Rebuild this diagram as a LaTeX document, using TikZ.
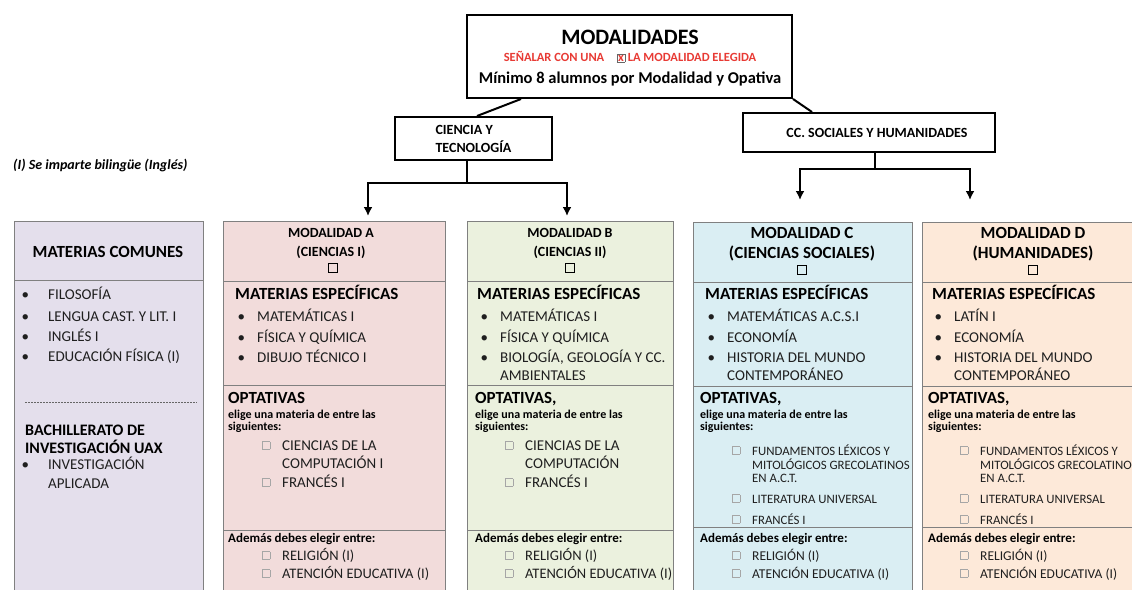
\documentclass[tikz,border=0pt]{standalone}
\usepackage{fontspec}
\setmainfont{Carlito}
\usetikzlibrary{arrows.meta}

\definecolor{comun}{RGB}{228,223,236}
\definecolor{modA}{RGB}{242,220,219}
\definecolor{modB}{RGB}{235,241,222}
\definecolor{modC}{RGB}{218,238,243}
\definecolor{modD}{RGB}{253,233,217}
\definecolor{rojo}{RGB}{232,58,52}
\definecolor{borde}{RGB}{128,128,128}

\newcommand\sz[1]{\fontsize{#1}{#1}\selectfont}
\newcommand\bul[1][12pt]{\llap{\textbullet\hspace{#1}}}
\newcommand\chk{\llap{\raisebox{1pt}{\textcolor{black!35}{\fboxsep=0pt\fboxrule=0.6pt\fbox{\rule{0pt}{7pt}\rule{7pt}{0pt}}}}\hspace{12pt}}}

\begin{document}
\begin{tikzpicture}[>={Latex[length=9pt,width=9pt]}, x=1pt, y=-1pt,
  box/.style={draw, line width=2pt, fill=white},
  col/.style={draw=borde, line width=1.2pt, anchor=north west, inner sep=0pt, minimum height=420pt},
  sep/.style={draw=borde, line width=1pt},
  link/.style={line width=2pt},
  hd/.style={anchor=base, inner sep=0pt, font=\bfseries\sz{14}},
  hdbig/.style={anchor=base, inner sep=0pt, font=\bfseries\sz{17}},
  tit/.style={anchor=base west, inner sep=0pt, font=\bfseries\sz{17}},
  item/.style={anchor=base west, inner sep=0pt, text=black!88, font=\sz{15}},
  opt/.style={anchor=base west, inner sep=0pt, text=black!88, font=\sz{12.8}},
  note/.style={anchor=base west, inner sep=0pt, font=\bfseries\sz{12}},
  ade/.style={anchor=base west, inner sep=0pt, font=\bfseries\sz{13}},
  cb/.style={draw, line width=1.3pt, minimum size=9pt, inner sep=0pt}]

\clip (0,0) rectangle (1132,589);

% cabecera
\node[box, minimum width=325pt, minimum height=83pt] (Mod) at (629.5,56.5) {};
\node[anchor=base, inner sep=0pt, font=\bfseries\sz{22}] (ModT) at (630,44) {MODALIDADES};
\node[anchor=base, inner sep=0pt, text=rojo, font=\bfseries\sz{12.5}] (ModS) at (630,61) {SEÑALAR CON UNA\quad{\fboxsep=0.8pt\fcolorbox{black!60}{white}{x}}\ LA MODALIDAD ELEGIDA};
\node[anchor=base, inner sep=0pt, font=\bfseries\sz{16.5}] (ModM) at (630,83.5) {Mínimo 8 alumnos por Modalidad y Opativa};

\node[box, minimum width=157pt, minimum height=43pt, align=left, font=\bfseries\fontsize{14}{18}\selectfont] (CyT) at (473.5,138.5) {CIENCIA Y\\TECNOLOGÍA};
\node[box, minimum width=252pt, minimum height=39pt, font=\bfseries\sz{14}] (CCS) at (869,132.5) {\hspace*{16pt}CC. SOCIALES Y HUMANIDADES};

\node[anchor=base west, inner sep=0pt, font=\bfseries\itshape\sz{14}] (Nota) at (13,169) {(I) Se imparte bilingüe (Inglés)};

% columnas
\node[col, fill=comun, minimum width=189pt] (Com) at (14,221) {};
\node[col, fill=modA, minimum width=222pt] (A) at (223,221) {};
\node[col, fill=modB, minimum width=206pt] (B) at (467,221) {};
\node[col, fill=modC, minimum width=219pt] (C) at (693,222) {};
\node[col, fill=modD, minimum width=240pt] (D) at (922,222) {};

\draw[sep] ([yshift=-59pt]Com.north west) -- ([yshift=-59pt]Com.north east);
\foreach \c in {A,B,C,D}
  \draw[sep] ([yshift=-60pt]\c.north west) -- ([yshift=-60pt]\c.north east);
\foreach \c in {A,B,C,D}
  \draw[sep] ([yshift=-164pt]\c.north west) -- ([yshift=-164pt]\c.north east);
\foreach \c/\d in {A/309,B/309,C/305,D/305}
  \draw[sep] ([yshift=-\d pt]\c.north west) -- ([yshift=-\d pt]\c.north east);
\draw[black!60, dash pattern=on 2pt off 1pt] ([xshift=11pt,yshift=-181pt]Com.north west) -- ([xshift=-8pt,yshift=-181pt]Com.north east);

% conectores
\draw[link] ([xshift=55pt]Mod.south west) -- ([xshift=83pt]CyT.north west);
\draw[link] (Mod.south east) -- ([xshift=70pt]CCS.north west);
\draw[link] ([xshift=-7pt]CyT.south) -- ++(0,22) coordinate (jA);
\draw[link, ->, shorten >=5pt] (jA) -| ([xshift=145pt]A.north west);
\draw[link, ->, shorten >=5pt] (jA) -| ([xshift=100pt]B.north west);
\draw[link] ([xshift=6pt]CCS.south) -- ++(0,16) coordinate (jC);
\draw[link, ->, shorten >=22pt] (jC) -| ([xshift=107pt]C.north west);
\draw[link, ->, shorten >=22pt] (jC) -| ([xshift=48pt]D.north west);

% materias comunes
\node[anchor=base, inner sep=0pt, font=\bfseries\sz{17}] (ComT) at (108,257.5) {MATERIAS COMUNES};
\foreach \t/\y [count=\i] in {FILOSOFÍA/299, LENGUA CAST. Y LIT. I/321, INGLÉS I/341, EDUCACIÓN FÍSICA (I)/361}
  \node[item] (Com\i) at (48,\y) {\bul[19pt]\t};
\node[tit, font=\bfseries\sz{16}] (ComB1) at (25,435) {BACHILLERATO DE};
\node[tit, font=\bfseries\sz{16}] (ComB2) at (25,453) {INVESTIGACIÓN UAX};
\node[item] (ComB3) at (48,469) {\bul[19pt]INVESTIGACIÓN};
\node[item] (ComB4) at (48,488) {APLICADA};

% modalidades
\node[hd] (A1) at (331,237.5) {MODALIDAD A};
\node[hd] (A2) at (331,256.5) {(CIENCIAS I)};
\node[cb] (A3) at (333,268) {};
\node[hd] (B1) at (570,237.5) {MODALIDAD B};
\node[hd] (B2) at (570,256.5) {(CIENCIAS II)};
\node[cb] (B3) at (570,268) {};
\node[hdbig] (C1) at (802,238.5) {MODALIDAD C};
\node[hdbig] (C2) at (802,258.5) {(CIENCIAS SOCIALES)};
\node[cb] (C3) at (802,270) {};
\node[hdbig] (D1) at (1033,238.5) {MODALIDAD D};
\node[hdbig] (D2) at (1033,258.5) {(HUMANIDADES)};
\node[cb] (D3) at (1033,270) {};

\foreach \c/\x in {A/235,B/477,C/705,D/932}
  \node[tit] (\c E) at (\x,299.5) {MATERIAS ESPECÍFICAS};

\foreach \t/\y [count=\i] in {MATEMÁTICAS I/321, FÍSICA Y QUÍMICA/342, DIBUJO TÉCNICO I/362}
  \node[item] (Am\i) at (257,\y) {\bul\t};
\foreach \t/\y [count=\i] in {MATEMÁTICAS I/321, FÍSICA Y QUÍMICA/342, {BIOLOGÍA, GEOLOGÍA Y CC.}/362}
  \node[item] (Bm\i) at (500,\y) {\bul\t};
\node[item] (Bm4) at (500,380) {AMBIENTALES};
\foreach \t/\y [count=\i] in {MATEMÁTICAS A.C.S.I/321, ECONOMÍA/342, HISTORIA DEL MUNDO/362}
  \node[item] (Cm\i) at (727,\y) {\bul\t};
\node[item] (Cm4) at (727,380) {CONTEMPORÁNEO};
\foreach \t/\y [count=\i] in {LATÍN I/321, ECONOMÍA/342, HISTORIA DEL MUNDO/362}
  \node[item] (Dm\i) at (954,\y) {\bul\t};
\node[item] (Dm4) at (954,380) {CONTEMPORÁNEO};

% optativas
\foreach \c/\x/\t in {A/228/OPTATIVAS, B/475/{OPTATIVAS,}, C/700/{OPTATIVAS,}, D/928/{OPTATIVAS,}} {
  \node[tit] (\c O) at (\x,403.5) {\t};
  \node[note] (\c O1) at (\x,418) {elige una materia de entre las};
  \node[note] (\c O2) at (\x,430) {siguientes:};
  \node[ade] (\c Ad) at (\x,542) {Además debes elegir entre:};
}
\foreach \c/\x/\t in {A/282/COMPUTACIÓN I, B/525/COMPUTACIÓN} {
  \node[item] (\c P1) at (\x,450) {\chk CIENCIAS DE LA};
  \node[item] (\c P2) at (\x,468) {\t};
  \node[item] (\c P3) at (\x,487) {\chk FRANCÉS I};
}
\foreach \c/\x in {C/752,D/980} {
  \node[opt] (\c P1) at (\x,455) {\chk FUNDAMENTOS LÉXICOS Y};
  \node[opt] (\c P2) at (\x,469) {MITOLÓGICOS GRECOLATINOS};
  \node[opt] (\c P3) at (\x,482) {EN A.C.T.};
  \node[opt] (\c P4) at (\x,503) {\chk LITERATURA UNIVERSAL};
  \node[opt] (\c P5) at (\x,524) {\chk FRANCÉS I};
}
\foreach \c/\x/\s in {A/282/14.5,B/525/14.5,C/752/13.5,D/980/13.5} {
  \node[item, font=\sz{\s}] (\c R) at (\x,560) {\chk RELIGIÓN (I)};
  \node[item, font=\sz{\s}] (\c At) at (\x,578) {\chk ATENCIÓN EDUCATIVA (I)};
}
\end{tikzpicture}
\end{document}
